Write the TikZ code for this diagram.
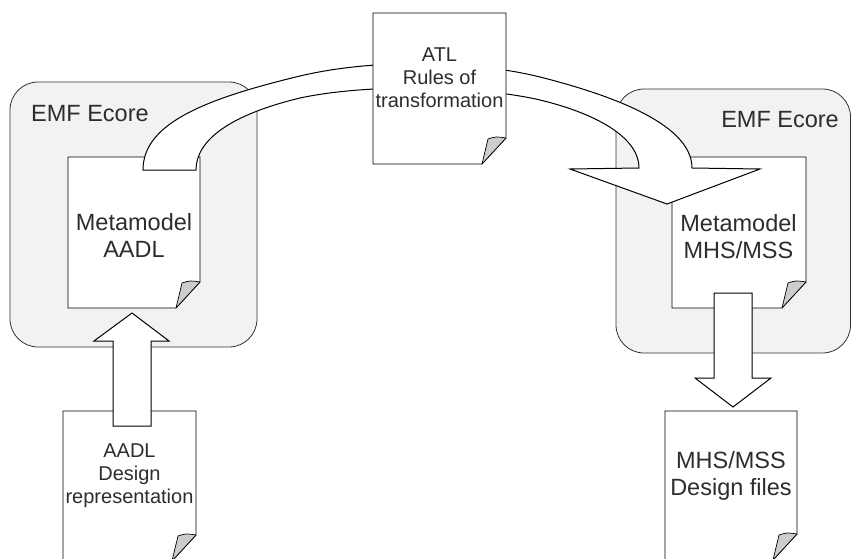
\documentclass[tikz,border=0pt]{standalone}
\usepackage{fontspec}
\setmainfont{Liberation Sans}
\definecolor{emfgray}{RGB}{242,242,242}
\definecolor{foldgray}{RGB}{204,204,204}
\definecolor{txtcol}{RGB}{45,45,45}
\newcommand\DocPage[4]{%
  \draw[page] (#1,#2) -- (#3,#2) -- (#3,#4-26) -- (#3-24,#4) -- (#1,#4) -- cycle;
  \draw[fold] (#3-18,#4-25) .. controls (#3-10,#4-27.5) .. (#3,#4-26) -- (#3-24,#4) -- cycle;}
\begin{document}
\begin{tikzpicture}[x=1pt,y=-1pt,
  emf/.style={draw=black!80, fill=emfgray, line width=0.8pt, rounded corners=28pt},
  page/.style={draw=black, fill=white, line width=0.8pt, line join=miter},
  fold/.style={draw=black, fill=foldgray, line width=0.7pt, line join=round},
  blockarrow/.style={draw=black, fill=white, line width=1pt, line join=miter},
  bigtxt/.style={font=\fontsize{23.5}{27}\selectfont, align=center, inner sep=0pt, text=txtcol},
  smalltxt/.style={font=\fontsize{20}{23}\selectfont, align=center, inner sep=0pt, text=txtcol}]
\useasboundingbox (0,0) rectangle (851,559);
\clip (0,0) rectangle (851,559);
% EMF containers
\draw[emf] (10,82) rectangle (257,347);
\draw[emf] (616,89) rectangle (850.5,353);
\node[bigtxt, anchor=west] (emfL) at (31,113.3) {EMF Ecore};
\node[bigtxt, anchor=east] (emfR) at (839,120) {EMF Ecore};
% metamodel documents
\DocPage{68}{157}{200}{308}
\node[bigtxt] (metaL) at (134,235.5) {Metamodel\\AADL};
\DocPage{672}{157}{806}{308}
\node[bigtxt] (metaR) at (738.5,236.5) {Metamodel\\MHS/MSS};
% curved transformation arrow
\draw[blockarrow] (143,170)
  .. controls (143,125) and (200,100) .. (300,76)
  .. controls (380,57) and (480,62) .. (540,77)
  .. controls (603,93) and (692,122) .. (692,168)
  -- (760,169) -- (667,204) -- (570,169) -- (639,168)
  .. controls (639,135) and (590,112) .. (540,100)
  .. controls (480,86) and (370,83) .. (300,98)
  .. controls (230,115) and (196,140) .. (196,170) -- cycle;
% ATL document
\DocPage{373}{13}{506}{164}
\node[smalltxt] (atl) at (439.5,77.5) {ATL\\Rules of\\transformation};
% design documents
\DocPage{63}{411}{196}{561}
\node[smalltxt] (aadl) at (129.5,476) {AADL\\Design\\representation};
\DocPage{665}{411}{797}{560}
\node[bigtxt] (mhs) at (731,475.5) {MHS/MSS\\Design files};
% straight block arrows
\draw[blockarrow] (113,426) -- (113,341) -- (94,341) -- (132,313) -- (169,341) -- (151,341) -- (151,426) -- cycle;
\draw[blockarrow] (714,293) -- (752,293) -- (752,378) -- (771,378) -- (733,407) -- (695,378) -- (714,378) -- cycle;
\end{tikzpicture}
\end{document}
